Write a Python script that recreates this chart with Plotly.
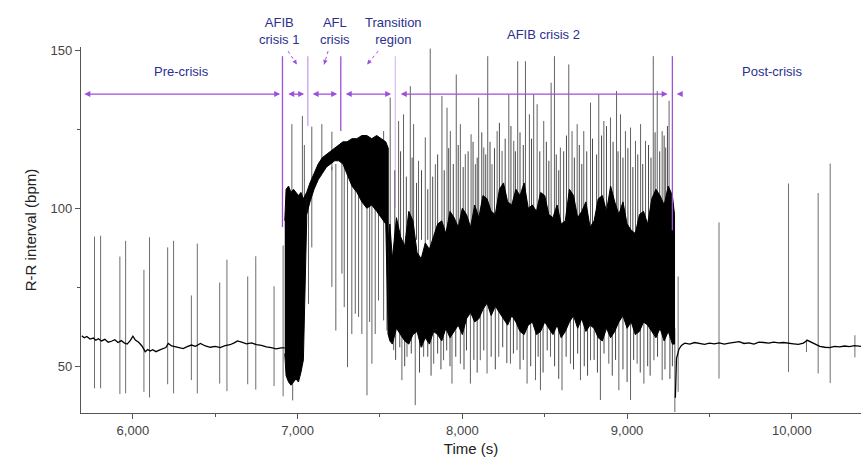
import plotly.graph_objects as go

# ---------------- data ----------------
# pre-crisis baseline (time s, R-R bpm)
pre_t = [5690, 5705, 5720, 5740, 5760, 5775, 5790, 5810, 5830, 5850, 5870, 5890, 5910, 5930, 5950, 5965,
         5985, 6000, 6015, 6035, 6055, 6075, 6090, 6105, 6120, 6140, 6160, 6180, 6200, 6215, 6235, 6255,
         6280, 6305, 6330, 6355, 6380, 6410, 6440, 6470, 6500, 6530, 6560, 6590, 6615, 6635, 6660, 6690,
         6720, 6750, 6780, 6810, 6840, 6870, 6900, 6922]
pre_rr = [59.6, 59.0, 59.4, 58.6, 58.9, 58.2, 58.7, 58.0, 58.5, 57.6, 57.9, 58.4, 57.5, 58.1, 57.3, 57.0,
          58.2, 59.5, 58.3, 57.6, 56.4, 54.6, 55.3, 54.8, 55.2, 54.6, 55.1, 55.4, 55.9, 57.2, 56.4, 56.2,
          55.8, 55.6, 56.2, 56.7, 56.3, 57.2, 56.4, 56.0, 56.3, 55.9, 56.5, 56.8, 57.4, 58.0, 57.6, 57.1,
          57.4, 56.8, 56.6, 56.1, 55.9, 55.5, 55.8, 55.8]

# post-crisis baseline
post_t = [9293, 9300, 9315, 9330, 9350, 9380, 9410, 9440, 9470, 9500, 9530, 9560, 9590, 9620, 9650, 9680,
          9710, 9740, 9770, 9800, 9830, 9860, 9890, 9920, 9950, 9980, 10010, 10040, 10070, 10095, 10120,
          10145, 10170, 10200, 10230, 10260, 10290, 10320, 10350, 10380, 10420]
post_rr = [40.0, 52.5, 55.4, 56.6, 57.3, 57.0, 57.5, 57.2, 56.9, 57.3, 57.1, 57.4, 57.0, 57.3, 57.6, 57.8,
           57.2, 57.4, 57.0, 57.6, 57.5, 57.3, 57.6, 57.4, 57.5, 57.2, 57.1, 56.9, 57.3, 58.2, 57.6,
           57.0, 56.3, 56.0, 55.9, 56.3, 56.1, 56.4, 56.2, 56.5, 56.3]

# dense envelopes (upper / lower edge of the solid black trace)
afib1_t = [6922, 6930, 6945, 6960, 6975, 6990, 7005, 7020, 7035, 7045, 7055]
afib1_hi = [96, 106, 107, 105, 106, 105, 104, 105, 103, 104, 105]
afib1_lo = [54, 47, 45, 44, 45, 46, 45, 48, 52, 70, 96]

afl_t = [7055, 7075, 7100, 7125, 7150, 7175, 7200, 7225, 7250, 7275, 7300, 7330, 7360, 7390, 7420, 7450,
         7480, 7510, 7535, 7550]
afl_hi = [105, 108, 111, 114, 116, 117, 118, 119, 120, 121, 121, 122, 122, 123, 123, 122, 123, 122, 121, 119]
afl_lo = [98, 102, 106, 109, 111, 113, 114, 115, 115, 114, 111, 107, 105, 102, 100, 101, 99, 97, 95, 60]

afib2_t = [7550, 7560, 7575, 7600, 7625, 7650, 7675, 7700, 7725, 7750, 7775, 7800, 7825, 7850, 7875, 7900,
           7925, 7950, 7975, 8000, 8025, 8050, 8075, 8100, 8125, 8150, 8175, 8200, 8225, 8250, 8275, 8300,
           8325, 8350, 8375, 8400, 8425, 8450, 8475, 8500, 8525, 8550, 8575, 8600, 8625, 8650, 8675, 8700,
           8725, 8750, 8775, 8800, 8825, 8850, 8875, 8900, 8925, 8950, 8975, 9000, 9025, 9050, 9075, 9100,
           9125, 9150, 9175, 9200, 9225, 9250, 9275, 9288]
afib2_hi = [90, 95, 84, 97, 91, 88, 99, 96, 86, 84, 89, 87, 91, 95, 96, 92,
            99, 97, 94, 100, 98, 94, 101, 97, 104, 103, 99, 98, 106, 108, 102, 101,
            106, 104, 108, 100, 101, 99, 105, 104, 98, 97, 101, 95, 96, 106, 104, 97,
            99, 102, 94, 96, 103, 104, 99, 107, 102, 98, 102, 95, 93, 92, 98, 99,
            95, 103, 106, 104, 101, 107, 104, 98]
afib2_lo = [60, 58, 57, 62, 60, 58, 57, 60, 61, 56, 59, 57, 61, 60, 58, 62,
            59, 61, 63, 60, 65, 67, 64, 65, 68, 70, 66, 69, 67, 65, 63, 66,
            64, 61, 60, 63, 64, 60, 61, 64, 62, 60, 63, 59, 61, 64, 66, 62,
            65, 61, 63, 62, 59, 58, 62, 59, 61, 64, 66, 62, 64, 60, 61, 64,
            63, 61, 59, 62, 58, 61, 57, 57]

# isolated beats (spikes): time, top, bottom
pre_spk_t = [5767, 5804, 5921, 5956, 6067, 6101, 6211, 6247, 6355, 6391, 6527, 6571, 6697, 6746, 6857, 6912]
pre_spk_hi = [91.0, 91.3, 84.7, 89.7, 80.5, 90.8, 87.6, 89.7, 72.4, 88.8, 76.5, 83.7, 78.4, 84.8, 75.3, 88.2]
pre_spk_lo = [43.0, 43.0, 41.2, 41.4, 41.9, 40.1, 44.3, 41.4, 45.6, 41.4, 44.5, 42.1, 44.3, 42.6, 43.7, 40.5]

up_spk_t = [6965, 7029, 7041, 7086, 7147, 7208, 7522, 7562, 7613, 7643, 7684, 7704, 7734, 7775, 7805, 7836,
            7876, 7907, 7927, 7963, 7988, 8018, 8053, 8079, 8099, 8130, 8154, 8180, 8211, 8241, 8282, 8312,
            8336, 8383, 8407, 8433, 8454, 8494, 8539, 8559, 8595, 8646, 8666, 8697, 8737, 8778, 8828, 8859,
            8899, 8936, 8960, 8990, 9021, 9051, 9082, 9112, 9159, 9183, 9213, 9234, 9255]
up_spk_hi = [126.6, 129.2, 120.0, 125.8, 126.6, 124.2, 124.4, 135.0, 127.6, 129.7, 138.6, 126.6, 115.0, 122.4,
             150.5, 113.9, 135.5, 131.8, 124.4, 142.3, 126.6, 117.1, 123.4, 113.9, 135.0, 119.2, 148.1, 113.9,
             124.4, 118.1, 136.0, 121.3, 146.5, 146.5, 129.7, 136.0, 132.9, 127.6, 139.7, 148.1, 119.2, 145.5,
             124.4, 126.6, 124.4, 133.4, 136.0, 127.6, 128.7, 137.1, 129.7, 124.4, 125.5, 121.3, 126.6, 121.3,
             148.1, 137.1, 124.4, 119.2, 134.0]
up_spk_lo = [100, 98, 95, 105, 112, 112, 100, 80, 88, 86, 88, 88, 85, 82, 80, 85, 86, 88, 90, 90, 92, 90, 90,
             94, 94, 95, 95, 96, 96, 100, 100, 100, 100, 98, 98, 98, 98, 96, 94, 94, 92, 98, 98, 95, 92, 92,
             94, 98, 100, 96, 95, 92, 90, 90, 92, 95, 98, 100, 100, 100, 98]

down_spk_t = [6970, 7066, 7086, 7208, 7232, 7269, 7283, 7303, 7329, 7350, 7370, 7390, 7421, 7437, 7451, 7471,
              7491, 7522, 7542, 7583, 7633, 7664, 7714, 7765, 7826, 7886, 7937, 7988, 8049, 8109, 8150, 8221,
              8292, 8332, 8393, 8444, 8474, 8535, 8605, 8656, 8717, 8778, 8838, 8889, 8950, 9021, 9061, 9102,
              9163, 9213, 9290]
down_spk_hi = [50, 104, 106, 113, 114, 115, 115, 115, 112, 110, 108, 106, 104, 104, 102, 102, 100, 98, 98,
               64, 65, 64, 66, 62, 64, 65, 66, 68, 70, 71, 74, 72, 70, 68, 68, 68, 68, 67, 66, 67, 68, 66,
               64, 65, 67, 67, 66, 67, 66, 64, 62]
down_spk_lo = [39.2, 69.7, 87.6, 75.1, 61.3, 79.3, 68.7, 49.7, 60.2, 66.6, 65.6, 60.2, 40.8, 64.0, 50.8, 60.2,
               70.8, 64.5, 61.3, 55.1, 45.6, 53.0, 37.7, 53.0, 50.8, 51.9, 44.5, 50.8, 44.5, 51.9, 47.7, 53.0,
               50.8, 55.1, 44.5, 45.6, 42.4, 53.0, 42.4, 50.8, 45.6, 51.9, 39.3, 50.8, 42.4, 39.3, 50.8, 44.5,
               51.9, 45.6, 35.5]

# shorter beats fringing the AFIB crisis 2 band
fringe_up_t = [7590, 7625, 7660, 7695, 7722, 7752, 7790, 7820, 7850, 7890, 7917, 7945, 7975, 8005, 8035, 8065,
               8090, 8118, 8142, 8168, 8195, 8225, 8260, 8295, 8322, 8350, 8370, 8420, 8470, 8510, 8525, 8570,
               8585, 8615, 8632, 8680, 8710, 8725, 8755, 8790, 8815, 8845, 8875, 8915, 8945, 8975, 9005, 9035,
               9065, 9095, 9130, 9145, 9170, 9198, 9225, 9245]
fringe_up_hi = [112, 118, 110, 116, 108, 112, 106, 110, 117, 112, 119, 114, 120, 113, 118, 121,
                116, 124, 117, 121, 119, 127, 122, 126, 118, 124, 120, 122, 118, 121, 115, 117,
                112, 118, 123, 116, 120, 114, 118, 122, 117, 123, 126, 121, 118, 116, 119, 113,
                117, 114, 120, 116, 124, 118, 123, 126]
fringe_dn_t = [7595, 7620, 7650, 7690, 7740, 7755, 7790, 7810, 7850, 7870, 7905, 7925, 7960, 8010, 8025, 8070,
               8090, 8130, 8175, 8200, 8245, 8270, 8310, 8350, 8370, 8415, 8460, 8490, 8515, 8560, 8585, 8630,
               8675, 8700, 8740, 8760, 8800, 8820, 8860, 8910, 8930, 8975, 9000, 9040, 9080, 9125, 9140, 9185,
               9230, 9260, 9275]
fringe_dn_lo = [52, 56, 50, 54, 48, 56, 53, 47, 54, 49, 55, 50, 53, 49, 55, 52,
                48, 55, 53, 49, 56, 51, 54, 49, 52, 50, 53, 48, 55, 50, 46, 53,
                49, 54, 50, 47, 52, 48, 54, 47, 52, 49, 45, 52, 48, 50, 47, 53,
                49, 46, 50]

post_spk_t = [9310, 9558, 9980, 10089, 10160, 10233, 10383]
post_spk_hi = [78.4, 95.5, 107.8, 58.5, 104.8, 114.1, 59.8]
post_spk_lo = [41.9, 46.1, 48.2, 54.5, 47.7, 44.7, 52.8]

# phase annotations
phase_bounds = [6908, 7062, 7262, 7593, 9275]          # purple vertical separators
bound_tops = [148.1, 148.1, 148.1, 148.1, 148.1]
bound_bottoms = [94, 126, 124.4, 100, 93]
phase_segments = [(5696, 6894), (6934, 7040), (7082, 7240), (7283, 7568), (7617, 9246)]
x_ticks = [6000, 7000, 8000, 9000, 10000]
y_ticks = [50, 100, 150]

# ---------------- figure ----------------
FONT = "Liberation Sans, Arial, sans-serif"
PURPLE = "#9d4fdc"
NAVY = "#2b2f8f"


def vlines(ts, his, los):
    xs, ys = [], []
    for t, h, l in zip(ts, his, los):
        xs += [t, t, None]
        ys += [l, h, None]
    return xs, ys


fig = go.Figure()

spike_sets = [
    (pre_spk_t, pre_spk_hi, pre_spk_lo, "#6e6e6e"),
    (fringe_up_t, fringe_up_hi, [90] * len(fringe_up_t), "#4a4a4a"),
    (fringe_dn_t, [70] * len(fringe_dn_t), fringe_dn_lo, "#4a4a4a"),
    (up_spk_t, up_spk_hi, up_spk_lo, "#626262"),
    (down_spk_t, down_spk_hi, down_spk_lo, "#626262"),
    (post_spk_t, post_spk_hi, post_spk_lo, "#6e6e6e"),
]
for ts, his, los, col in spike_sets:
    xs, ys = vlines(ts, his, los)
    fig.add_trace(go.Scatter(x=xs, y=ys, mode="lines", line=dict(color=col, width=1),
                             hoverinfo="skip", showlegend=False))

for ts, his, los in [(afib1_t, afib1_hi, afib1_lo), (afl_t, afl_hi, afl_lo), (afib2_t, afib2_hi, afib2_lo)]:
    fig.add_trace(go.Scatter(x=ts + ts[::-1], y=his + los[::-1], mode="lines", fill="toself",
                             fillcolor="black", line=dict(color="black", width=1),
                             hoverinfo="skip", showlegend=False))

for ts, rr in [(pre_t, pre_rr), (post_t, post_rr)]:
    fig.add_trace(go.Scatter(x=ts, y=rr, mode="lines", line=dict(color="black", width=1.3),
                             showlegend=False))

# vertical purple separators
alphas = [1.0, 0.55, 1.0, 0.35, 1.0]
for xb, top, bot, a in zip(phase_bounds, bound_tops, bound_bottoms, alphas):
    fig.add_shape(type="line", x0=xb, x1=xb, y0=bot, y1=top, xref="x", yref="y",
                  line=dict(color=PURPLE, width=1.3), opacity=a, layer="above")

# double-headed horizontal phase arrows
ARROW_Y = 136.1
for a, b in phase_segments:
    fig.add_annotation(x=b, y=ARROW_Y, ax=a, ay=ARROW_Y, xref="x", yref="y", axref="x", ayref="y",
                       showarrow=True, arrowside="end+start", arrowhead=2, arrowsize=1.0,
                       arrowwidth=1.2, arrowcolor=PURPLE, text="")
fig.add_annotation(x=9301, y=ARROW_Y, ax=9345, ay=ARROW_Y, xref="x", yref="y", axref="x", ayref="y",
                   showarrow=True, arrowhead=2, arrowsize=1.0, arrowwidth=1.2, arrowcolor=PURPLE, text="")

# labels
labels = [("AFIB<br>crisis 1", 6887, 1.0437), ("AFL<br>crisis", 7228, 1.0437),
          ("Transition<br>region", 7581, 1.0437), ("AFIB crisis 2", 8492, 1.033)]
for txt, xv, yv in labels:
    fig.add_annotation(x=xv, y=yv, xref="x", yref="paper", text=txt, showarrow=False,
                       font=dict(family=FONT, size=13, color=NAVY), xanchor="center", yanchor="middle")
fig.add_annotation(x=6298, y=143.1, xref="x", yref="y", text="Pre-crisis", showarrow=False,
                   font=dict(family=FONT, size=13, color=NAVY))
fig.add_annotation(x=9878, y=143.3, xref="x", yref="y", text="Post-crisis", showarrow=False,
                   font=dict(family=FONT, size=13, color=NAVY))

# dotted pointers from labels
pointers = [(6942, 149.7, 6995, 145.5), (7185, 149.7, 7161, 145.5), (7489, 149.7, 7422, 145.5)]
for x0, y0, x1, y1 in pointers:
    fig.add_shape(type="line", x0=x0, y0=y0, x1=x1, y1=y1, xref="x", yref="y",
                  line=dict(color=PURPLE, width=1, dash="dot"), layer="above")
    fig.add_annotation(x=x1, y=y1, ax=x1 - (x1 - x0) * 0.35, ay=y1 - (y1 - y0) * 0.35, xref="x", yref="y",
                       axref="x", ayref="y", showarrow=True, arrowhead=2, arrowsize=0.9, arrowwidth=1,
                       arrowcolor=PURPLE, text="")

fig.update_layout(
    width=861, height=466,
    margin=dict(l=81, r=0, t=47, b=53),
    paper_bgcolor="white", plot_bgcolor="white",
    font=dict(family=FONT, size=13, color="#444"),
    showlegend=False,
)
fig.update_xaxes(range=[5685, 10420], tickvals=x_ticks, tickformat=",d", ticks="outside", ticklen=5,
                 tickcolor="#555", showline=True, linecolor="#555", linewidth=1.3, showgrid=False,
                 zeroline=False, tickfont=dict(size=13, color="#444"),
                 minor=dict(tickvals=[6500, 7500, 8500, 9500], ticks="outside", ticklen=3, tickcolor="#555"),
                 title=dict(text="Time (s)", font=dict(size=15, color="#222"), standoff=6))
fig.update_yaxes(range=[35.2, 151], tickvals=y_ticks, ticks="outside", ticklen=5, tickcolor="#555",
                 showline=True, linecolor="#555", linewidth=1.3, showgrid=False, zeroline=False,
                 tickfont=dict(size=13, color="#444"),
                 minor=dict(tickvals=[75, 125], ticks="outside", ticklen=3, tickcolor="#555"),
                 title=dict(text="R-R interval (bpm)", font=dict(size=15, color="#222"), standoff=10))

fig.write_html("out.html", config={"displayModeBar": False},
               post_script="document.body.style.margin='0';document.body.style.overflow='hidden';")
